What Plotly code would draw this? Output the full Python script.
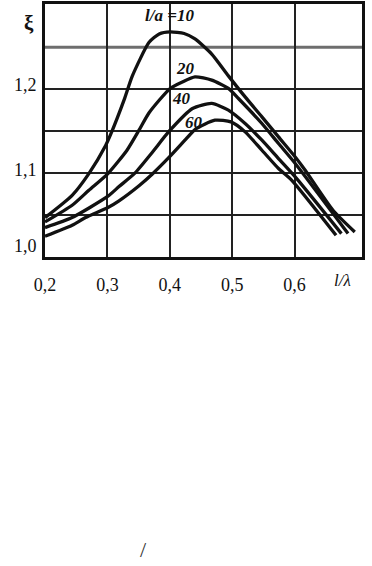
import plotly.graph_objects as go

# l/λ values and ξ values for each l/a curve
x_10 = [0.200, 0.2435, 0.2703, 0.2972, 0.3057, 0.3266, 0.340, 0.3668, 0.383, 0.4006, 0.423, 0.4404,
        0.4672, 0.4939, 0.5207, 0.5476, 0.5742, 0.601, 0.617, 0.6615, 0.6964]
y_10 = [1.047, 1.0736, 1.0995, 1.133, 1.147, 1.187, 1.216, 1.256, 1.2660, 1.2685, 1.2665, 1.2600,
        1.2420, 1.2160, 1.1909, 1.1671, 1.1432, 1.1193, 1.1035, 1.0557, 1.0298]

x_20 = [0.200, 0.2435, 0.2703, 0.3009, 0.3314, 0.3507, 0.3668, 0.4006, 0.4203, 0.4404, 0.4672,
        0.4939, 0.51, 0.5476, 0.5742, 0.601, 0.6856]
y_20 = [1.0418, 1.0617, 1.0796, 1.0995, 1.1273, 1.1512, 1.1720, 1.2010, 1.2088, 1.2148, 1.2109,
        1.201, 1.189, 1.1592, 1.1353, 1.1115, 1.0279]

x_40 = [0.200, 0.2435, 0.3009, 0.3186, 0.344, 0.3721, 0.399, 0.4364, 0.4672, 0.4939, 0.5207,
        0.5476, 0.5742, 0.601, 0.675]
y_40 = [1.0351, 1.047, 1.0725, 1.0840, 1.100, 1.1250, 1.150, 1.1771, 1.1831, 1.1751, 1.1592,
        1.1393, 1.1174, 1.0955, 1.0279]

x_60 = [0.200, 0.2435, 0.265, 0.3009, 0.3186, 0.3507, 0.3721, 0.399, 0.4258, 0.4404, 0.4724,
        0.498, 0.5207, 0.5476, 0.5742, 0.5955, 0.6664]
y_60 = [1.0247, 1.0378, 1.0470, 1.0590, 1.067, 1.085, 1.099, 1.119, 1.1405, 1.1520, 1.1631,
        1.1611, 1.1492, 1.1273, 1.1055, 1.0915, 1.0259]

series_x = [x_10, x_20, x_40, x_60]
series_y = [y_10, y_20, y_40, y_60]

x_ticks = [0.2, 0.3, 0.4, 0.5, 0.6]
x_tick_text = ["0,2", "0,3", "0,4", "0,5", "0,6"]
y_grid = [1.0, 1.05, 1.1, 1.15, 1.2]
y_heavy_grid = [1.25]
y_label_vals = [1.0, 1.1, 1.2]
y_label_text = ["1,0", "1,1", "1,2"]
y_label_shift = [11, 3, 4]

curve_labels = ["l/a =10", "20", "40", "60"]
curve_label_x = [0.400, 0.4247, 0.4182, 0.4391]
curve_label_y = [1.2884, 1.2252, 1.1894, 1.1607]

SERIF = "Liberation Serif"

fig = go.Figure()
for xs, ys in zip(series_x, series_y):
    fig.add_trace(go.Scatter(x=xs, y=ys, mode="lines",
                             line=dict(color="#111", width=3.3, shape="spline", smoothing=0.6),
                             showlegend=False, hoverinfo="skip"))

annotations = []
for v, t, s in zip(y_label_vals, y_label_text, y_label_shift):
    annotations.append(dict(x=-0.02, xref="paper", y=v, yref="y", text=t, showarrow=False,
                            xanchor="right", yanchor="middle", yshift=s,
                            font=dict(family=SERIF, size=18, color="#111")))
for t, xv, yv in zip(curve_labels, curve_label_x, curve_label_y):
    annotations.append(dict(x=xv, y=yv, xref="x", yref="y", text="<b><i>" + t + "</i></b>",
                            showarrow=False, xanchor="center", yanchor="middle",
                            font=dict(family=SERIF, size=17, color="#111")))
annotations.append(dict(x=-0.05, xref="paper", y=1.0, yref="paper", text="<b>ξ</b>",
                        showarrow=False, xanchor="center", yanchor="top", yshift=-5,
                        font=dict(family=SERIF, size=21, color="#111")))
annotations.append(dict(x=0.94, xref="paper", y=0, yref="paper", text="<i>l/λ</i>",
                        showarrow=False, xanchor="center", yanchor="middle", yshift=-23,
                        font=dict(family=SERIF, size=17, color="#111")))
annotations.append(dict(x=0.31, xref="paper", y=-1.215, yref="paper", text="/",
                        showarrow=False, xanchor="center", yanchor="bottom",
                        font=dict(family=SERIF, size=22, color="#333")))

shapes = [dict(type="line", xref="paper", x0=0, x1=1, yref="y", y0=v, y1=v,
               line=dict(color="#6e6e6e", width=3), layer="below") for v in y_heavy_grid]

fig.update_layout(
    width=372, height=566,
    margin=dict(l=45, r=10, t=4, b=309, autoexpand=False),
    paper_bgcolor="white", plot_bgcolor="white",
    annotations=annotations,
    shapes=shapes,
    xaxis=dict(range=[0.2, 0.708], tickvals=x_ticks, ticktext=x_tick_text,
               showgrid=True, gridcolor="#222", gridwidth=1.5, zeroline=False,
               showline=True, linecolor="#111", linewidth=2.5, mirror=True,
               ticks="", ticklabelstandoff=10,
               tickfont=dict(family=SERIF, size=18, color="#111")),
    yaxis=dict(range=[1.0, 1.3017], tickvals=y_grid, showticklabels=False,
               showgrid=True, gridcolor="#222", gridwidth=1.5, zeroline=False,
               showline=True, linecolor="#111", linewidth=2.5, mirror=True, ticks=""),
)

fig.write_html("out.html", config={"displayModeBar": False},
               post_script="document.body.style.margin='0px';document.body.style.overflow='hidden';")
